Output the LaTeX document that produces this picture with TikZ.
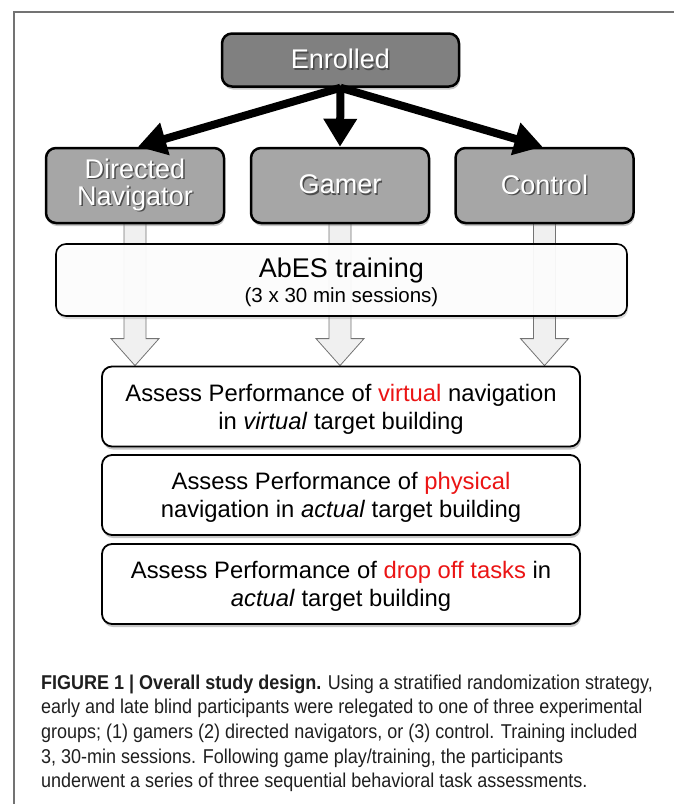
\documentclass[tikz,border=0pt]{standalone}
\usepackage{fontspec}
\setmainfont{Liberation Sans}
\newfontfamily\capfont[FakeStretch=0.9]{Liberation Sans}
\usetikzlibrary{shadows,arrows.meta,calc,backgrounds}
\definecolor{redtxt}{RGB}{235,20,20}
\newcommand\shd[1]{\leavevmode\rlap{\color{black!70}\hspace{1.3pt}\raisebox{-1.6pt}{#1}}#1}
\begin{document}
\begin{tikzpicture}[x=1pt,y=-1pt,
  shadowed/.style={drop shadow={shadow xshift=1pt,shadow yshift=-3pt,opacity=0.45}},
  topbox/.style={draw=black,line width=2.5pt,rounded corners=10pt,fill=black!50,
    text=white,align=center,font=\fontsize{27}{28}\selectfont,
    minimum width=237pt,minimum height=53pt,inner sep=0pt,shadowed},
  grpbox/.style={draw=black,line width=2.5pt,rounded corners=10pt,fill=black!35,
    text=white,align=center,font=\fontsize{27}{27}\selectfont,
    minimum width=178pt,minimum height=75pt,inner sep=0pt,shadowed},
  trainbox/.style={draw=black,line width=1.6pt,rounded corners=10pt,fill=white,
    fill opacity=0.93,text opacity=1,align=center,text depth=0pt,
    minimum width=571pt,minimum height=72pt,inner sep=0pt,
    drop shadow={shadow xshift=1pt,shadow yshift=-3pt,opacity=0.3}},
  taskbox/.style={draw=black,line width=1.8pt,rounded corners=10pt,fill=white,
    align=center,font=\fontsize{23.8}{28}\selectfont,text depth=-2pt,
    minimum width=478pt,minimum height=80pt,inner sep=0pt,shadowed},
  bigarrow/.style={line width=8pt,-{Triangle[length=28pt,width=32pt]}},
  blockarrow/.style={draw=black!55,line width=0.8pt,fill=black!6,line join=miter},
  capline/.style={anchor=base west,inner sep=0pt,text=black!88,
    font=\capfont\fontsize{20}{24}\selectfont}]
\useasboundingbox (0,0) rectangle (673,804);
% frame
\draw[black!55,line width=1.5pt] (14,830) -- (14,12) -- (700,12);

% nodes
\node[topbox] (en) at (340.5,60) {\shd{Enrolled}};
\node[grpbox] (dn) at (135,185.5) {\shd{Directed}\\\shd{Navigator}};
\node[grpbox] (ga) at (340,185.5) {\shd{Gamer}};
\node[grpbox] (co) at (544.5,185.5) {\shd{Control}};
\node[trainbox] (tr) at (341.5,280) {{\fontsize{27}{30}\selectfont AbES training}\\[4pt]{\fontsize{20.5}{22}\selectfont (3 x 30 min sessions)}};
\node[taskbox] (t1) at (341,406.5) {Assess Performance of \textcolor{redtxt}{virtual} navigation\\in \textit{virtual} target building};
\node[taskbox] (t2) at (341,495) {Assess Performance of \textcolor{redtxt}{physical}\\navigation in \textit{actual} target building};
\node[taskbox] (t3) at (341,584) {Assess Performance of \textcolor{redtxt}{drop off tasks} in\\\textit{actual} target building};

% block arrows
\begin{scope}[on background layer]
\foreach \g in {dn,ga,co}{
  \path (\g.south) coordinate (top-\g) (\g.south |- t1.north) coordinate (tip-\g);
  \draw[blockarrow] ($(top-\g)+(-11,-5)$) -- ($(tip-\g)+(-11,-27)$) -- ($(tip-\g)+(-24,-27)$)
     -- (tip-\g) -- ($(tip-\g)+(24,-27)$) -- ($(tip-\g)+(11,-27)$) -- ($(top-\g)+(11,-5)$);
}
\end{scope}

% black arrows
\draw[bigarrow] (en.south) -- ($(dn.north)+(3,0)$);
\draw[bigarrow] (en.south) -- (ga.north);
\draw[bigarrow] (en.south) -- ($(co.north)+(-2,0)$);

% caption
\node[capline] (c1) at (41,689) {\textbf{FIGURE 1 | Overall study design.} Using a stratified randomization strategy,};
\node[capline] (c2) at (41,713.7) {early and late blind participants were relegated to one of three experimental};
\node[capline] (c3) at (41,738.4) {groups; (1) gamers (2) directed navigators, or (3) control. Training included};
\node[capline] (c4) at (41,763.1) {3, 30-min sessions. Following game play/training, the participants};
\node[capline] (c5) at (41,787.8) {underwent a series of three sequential behavioral task assessments.};
\end{tikzpicture}
\end{document}
